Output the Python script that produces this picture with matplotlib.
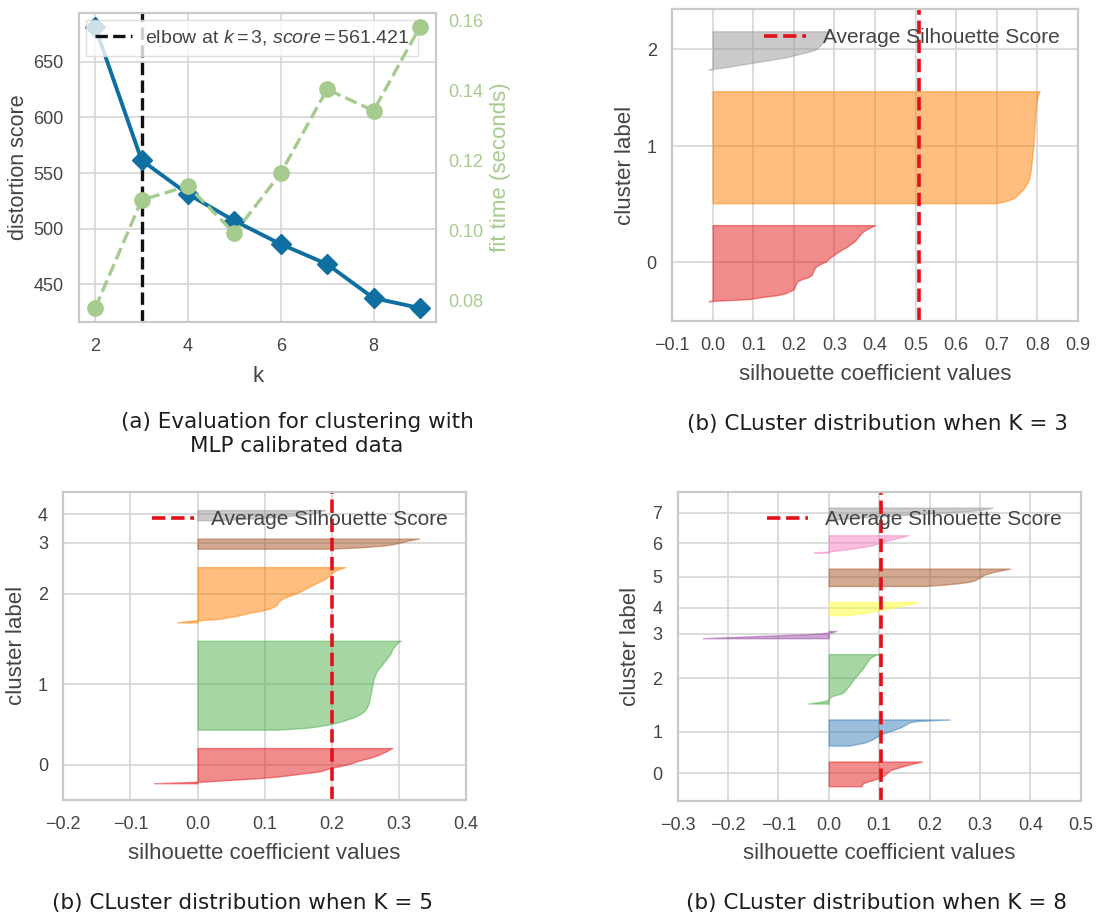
import matplotlib
matplotlib.use("Agg")
import matplotlib.pyplot as plt
import numpy as np

# ---- elbow data (panel a) ----
k_values = [2, 3, 4, 5, 6, 7, 8, 9]
distortion = [681, 561.421, 531, 507, 486, 468, 437.5, 428.5]
fit_time = [0.0779, 0.1087, 0.1127, 0.0992, 0.1164, 0.1403, 0.1342, 0.1581]
elbow_k = 3
elbow_score = 561.421

# ---- silhouette values, sorted per cluster ----
# K = 3
sil3_c0 = [-0.01, 0.09, 0.12, 0.16, 0.18, 0.19, 0.20, 0.202, 0.204, 0.206, 0.21, 0.22, 0.235,
           0.244, 0.246, 0.248, 0.25, 0.253, 0.26, 0.27, 0.28, 0.285, 0.29, 0.298, 0.305, 0.312,
           0.32, 0.33, 0.336, 0.343, 0.35, 0.354, 0.358, 0.362, 0.366, 0.372, 0.38, 0.39, 0.40]
sil3_c1 = [0.70, 0.72, 0.735, 0.745, 0.75, 0.755, 0.76, 0.765, 0.768, 0.771, 0.774, 0.777, 0.779,
           0.78, 0.781, 0.782, 0.783, 0.784, 0.784, 0.785, 0.785, 0.786, 0.786, 0.787, 0.787, 0.788,
           0.788, 0.789, 0.789, 0.79, 0.79, 0.79, 0.791, 0.791, 0.791, 0.792, 0.792, 0.792, 0.793,
           0.793, 0.793, 0.794, 0.794, 0.794, 0.795, 0.795, 0.795, 0.796, 0.796, 0.797, 0.797,
           0.798, 0.799, 0.80, 0.801, 0.803, 0.805]
sil3_c2 = [-0.01, 0.03, 0.06, 0.09, 0.12, 0.15, 0.18, 0.20, 0.22, 0.24, 0.255, 0.26, 0.265, 0.27,
           0.272, 0.275, 0.278, 0.28, 0.285, 0.29]
avg3 = 0.508

# K = 5
sil5_c0 = [-0.065, 0.01, 0.05, 0.09, 0.12, 0.14, 0.16, 0.18, 0.19, 0.196, 0.21, 0.22, 0.23, 0.236,
           0.245, 0.255, 0.263, 0.27, 0.275, 0.281, 0.285, 0.29]
sil5_c1 = [0.12, 0.16, 0.18, 0.195, 0.205, 0.215, 0.222, 0.23, 0.236, 0.241, 0.245, 0.248, 0.25,
           0.252, 0.253, 0.254, 0.255, 0.256, 0.256, 0.257, 0.257, 0.258, 0.258, 0.259, 0.259,
           0.26, 0.26, 0.261, 0.261, 0.262, 0.262, 0.263, 0.264, 0.265, 0.266, 0.267, 0.269,
           0.271, 0.273, 0.275, 0.277, 0.279, 0.281, 0.283, 0.285, 0.287, 0.288, 0.289, 0.29,
           0.292, 0.294, 0.296, 0.298, 0.303]
sil5_c2 = [-0.03, -0.01, 0.03, 0.045, 0.06, 0.07, 0.08, 0.095, 0.105, 0.112, 0.116, 0.119, 0.12,
           0.122, 0.126, 0.131, 0.138, 0.145, 0.15, 0.156, 0.16, 0.165, 0.17, 0.175, 0.18, 0.185,
           0.19, 0.193, 0.196, 0.199, 0.202, 0.206, 0.212, 0.22]
sil5_c3 = [0.20, 0.25, 0.28, 0.295, 0.305, 0.315, 0.33]
sil5_c4 = [0.03, 0.08, 0.12, 0.15, 0.17, 0.18, 0.19]
avg5 = 0.201

# K = 8
sil8_c0 = [0.065, 0.066, 0.068, 0.075, 0.085, 0.095, 0.102, 0.108, 0.112, 0.115, 0.118, 0.122,
           0.13, 0.14, 0.15, 0.16, 0.172, 0.185]
sil8_c1 = [0.04, 0.055, 0.07, 0.078, 0.085, 0.09, 0.095, 0.10, 0.105, 0.113, 0.122, 0.13, 0.138,
           0.145, 0.15, 0.155, 0.16, 0.175, 0.24]
sil8_c2 = [-0.04, -0.02, -0.005, 0.0, 0.002, 0.005, 0.015, 0.025, 0.03, 0.032, 0.035, 0.037, 0.04,
           0.042, 0.044, 0.046, 0.048, 0.05, 0.052, 0.055, 0.058, 0.06, 0.062, 0.065, 0.067,
           0.069, 0.071, 0.073, 0.075, 0.077, 0.079, 0.081, 0.085, 0.09, 0.099]
sil8_c3 = [-0.25, -0.18, -0.10, -0.03, 0.005, 0.015]
sil8_c4 = [0.04, 0.06, 0.08, 0.095, 0.11, 0.125, 0.14, 0.155, 0.168, 0.178]
sil8_c5 = [0.19, 0.23, 0.26, 0.28, 0.29, 0.295, 0.30, 0.305, 0.31, 0.32, 0.33, 0.345, 0.36]
sil8_c6 = [-0.03, 0.005, 0.03, 0.05, 0.07, 0.085, 0.095, 0.105, 0.115, 0.125, 0.135, 0.148, 0.158]
sil8_c7 = [0.02, 0.05, 0.10, 0.15, 0.20, 0.25, 0.29, 0.31, 0.325]
avg8 = 0.104

captions = ["(a) Evaluation for clustering with\nMLP calibrated data",
            "(b) CLuster distribution when K = 3",
            "(b) CLuster distribution when K = 5",
            "(b) CLuster distribution when K = 8"]

# ---- style ----
txt = '#444444'
plt.rcParams.update({
    'font.family': 'Liberation Sans',
    'mathtext.fontset': 'custom',
    'mathtext.rm': 'Liberation Sans',
    'mathtext.it': 'Liberation Sans:italic',
    'axes.edgecolor': '#cacaca',
    'axes.linewidth': 1.6,
    'grid.color': '#d6d6d6',
    'grid.linewidth': 1.2,
    'xtick.color': txt,
    'ytick.color': txt,
    'axes.labelcolor': txt,
    'text.color': txt,
    'xtick.major.size': 0,
    'ytick.major.size': 0,
    'xtick.major.pad': 11.5,
    'ytick.major.pad': 11,
    'xtick.labelsize': 13,
    'ytick.labelsize': 13,
    'axes.labelsize': 16,
    'axes.labelpad': 8,
})

fig = plt.figure(figsize=(11.01, 9.17), dpi=100)

# ---- panel (a): elbow ----
ax = fig.add_axes([0.0718, 0.6489, 0.3243, 0.337])
ax.grid(True)
ax.set_axisbelow(True)
ax.plot(k_values, distortion, color='#0f6fa0', marker='D', markersize=10, lw=2.8, zorder=3)
ax.axvline(elbow_k, color='#111111', linestyle='--', lw=2.4,
           label=f"elbow at $k={elbow_k}$, $score={elbow_score:.3f}$")
ax.set_xlim(1.65, 9.35)
ax.set_ylim(416, 694)
ax.set_xticks([2, 4, 6, 8])
ax.set_yticks([450, 500, 550, 600, 650])
ax.set_xlabel("k")
ax.set_ylabel("distortion score", fontsize=15.5, labelpad=3)
ax.legend(loc='upper left', fontsize=14, frameon=True, framealpha=0.8,
          facecolor='white', edgecolor='#d8d8d8', fancybox=False,
          handlelength=1.9, handletextpad=0.7, borderaxespad=0.35, borderpad=0.45)

ax2 = ax.twinx()
green = '#a6cb8e'
ax2.plot(k_values, fit_time, color=green, marker='o', markersize=11, linestyle='--', lw=2.4)
ax2.set_ylim(0.0739, 0.1621)
ax2.set_yticks([0.08, 0.10, 0.12, 0.14, 0.16])
ax2.set_yticklabels(["0.08", "0.10", "0.12", "0.14", "0.16"])
ax2.grid(False)
ax2.tick_params(axis='y', colors=green, pad=8.5)
ax2.set_ylabel("fit time (seconds)", color=green, labelpad=5)
for s in ax2.spines.values():
    s.set_visible(False)


# ---- silhouette panels ----
def silhouette_panel(rect, clusters, avg, xlim, xticks):
    axs = fig.add_axes(rect)
    axs.grid(True)
    axs.set_axisbelow(True)
    colors = plt.get_cmap('Set1')(np.linspace(0, 1, len(clusters)))
    y_lower = 10
    tick_pos = []
    for idx, vals in enumerate(clusters):
        vals = np.sort(vals)
        y_upper = y_lower + len(vals)
        axs.fill_betweenx(np.arange(y_lower, y_upper), 0, vals,
                          facecolor=colors[idx], edgecolor=colors[idx], alpha=0.5)
        tick_pos.append(y_lower + 0.5 * len(vals))
        y_lower = y_upper + 10
    axs.axvline(avg, color='#e3101a', linestyle='--', lw=2.6, label="Average Silhouette Score")
    n_samples = sum(len(c) for c in clusters)
    axs.set_xlim(xlim)
    axs.set_xticks(xticks)
    axs.set_xticklabels([f"{t:.1f}".replace('-', '\u2212') for t in xticks])
    axs.set_ylim(0, n_samples + (len(clusters) + 1) * 10)
    axs.set_yticks(tick_pos)
    axs.set_yticklabels([str(i) for i in range(len(clusters))])
    axs.set_xlabel("silhouette coefficient values", labelpad=7)
    axs.set_ylabel("cluster label")
    axs.legend(loc='upper right', fontsize=15, frameon=False)
    return axs


silhouette_panel([0.6104, 0.6499, 0.3688, 0.3399], [sil3_c0, sil3_c1, sil3_c2], avg3,
                 (-0.1, 0.9), np.round(np.arange(-0.1, 0.95, 0.1), 1))
silhouette_panel([0.0575, 0.1276, 0.3658, 0.3362],
                 [sil5_c0, sil5_c1, sil5_c2, sil5_c3, sil5_c4], avg5,
                 (-0.2, 0.4), np.round(np.arange(-0.2, 0.45, 0.1), 1))
silhouette_panel([0.6155, 0.1268, 0.366, 0.337],
                 [sil8_c0, sil8_c1, sil8_c2, sil8_c3, sil8_c4, sil8_c5, sil8_c6, sil8_c7], avg8,
                 (-0.3, 0.5), np.round(np.arange(-0.3, 0.55, 0.1), 1))

# ---- captions ----
cap = dict(ha='center', va='center', family='DejaVu Sans', color='#1e1e1e',
           linespacing=1.25, fontsize=15.5)
fig.text(297 / 1101, 1 - 434 / 917, captions[0], **cap)
fig.text(877 / 1101, 1 - 424 / 917, captions[1], **cap)
fig.text(243 / 1101, 1 - 903 / 917, captions[2], **cap)
fig.text(877 / 1101, 1 - 903 / 917, captions[3], **cap)

plt.savefig('out.png', dpi=100)
